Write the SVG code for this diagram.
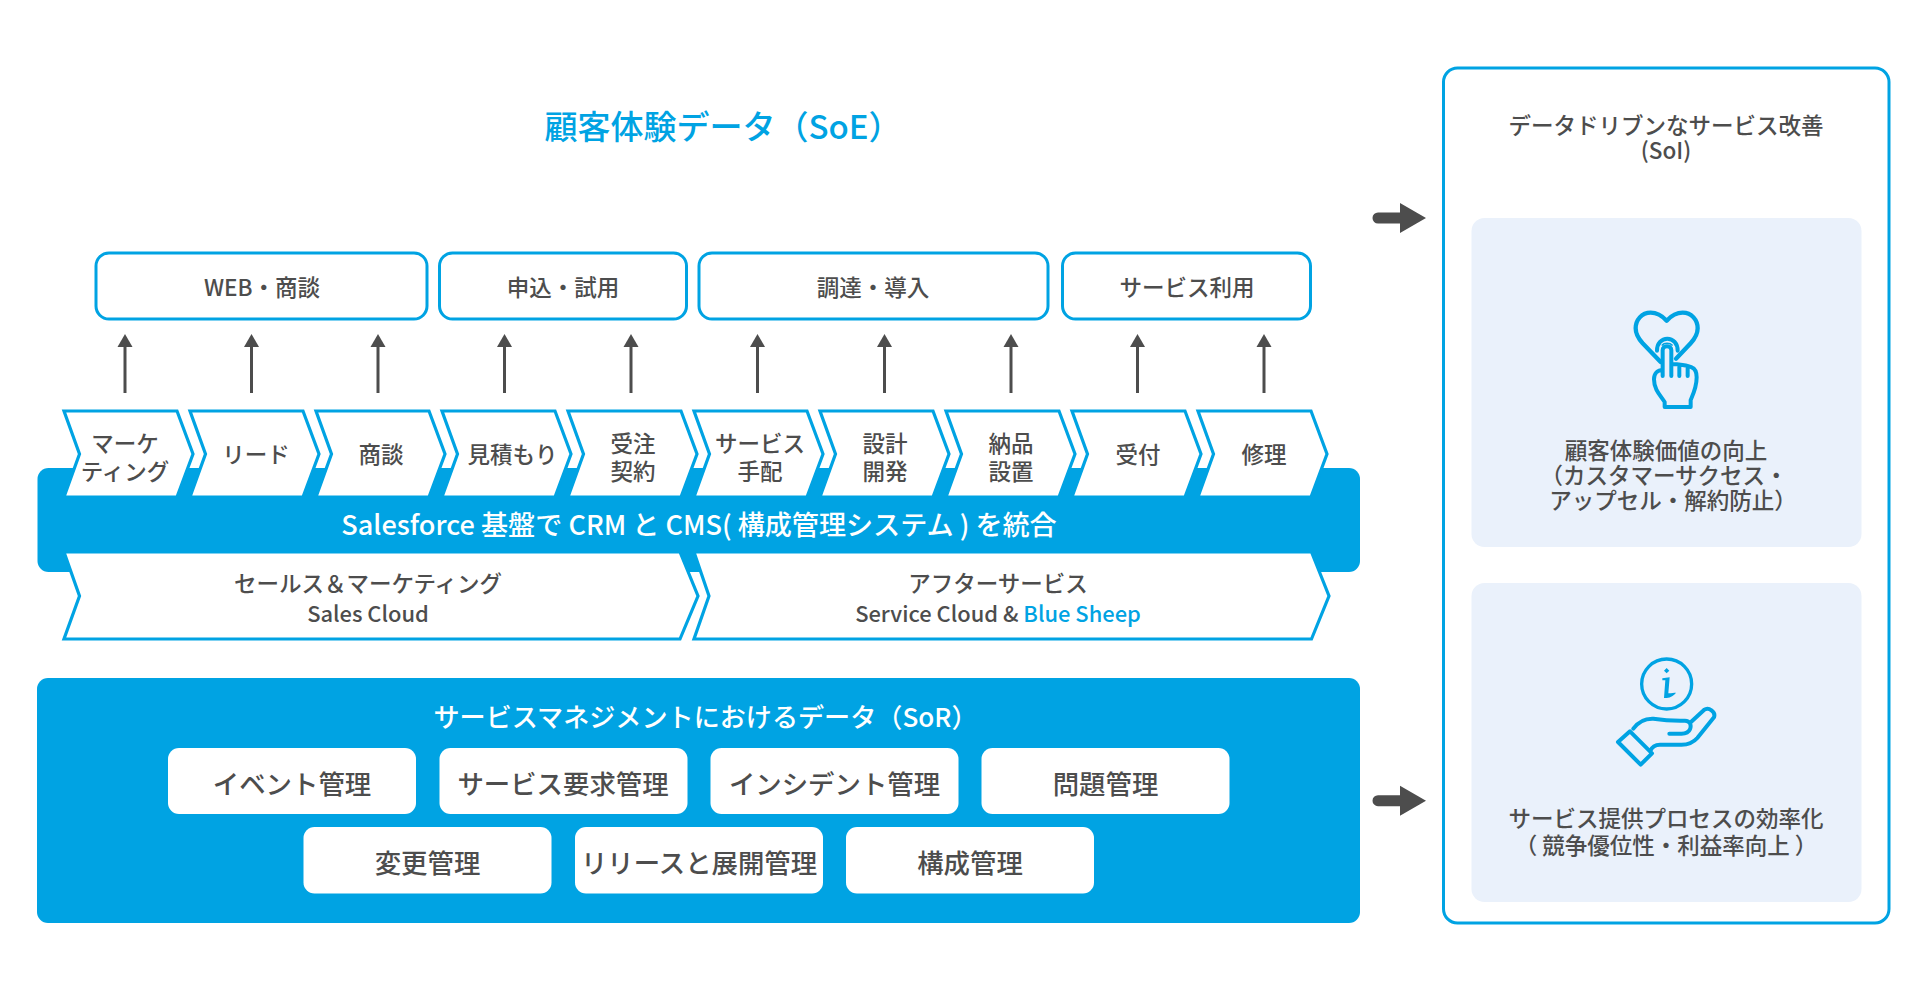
<svg xmlns="http://www.w3.org/2000/svg" width="1920" height="1001" viewBox="0 0 1920 1001">
<style>
text{font-family:"Noto Sans CJK JP","Noto Sans",sans-serif;fill:#4d4d4d;text-anchor:middle;dominant-baseline:central;font-size:22.5px;font-weight:500}
.w{fill:#fff}
.b{fill:#00a3e3}
.box{fill:#fff;stroke:#00a3e3;stroke-width:3}
.chev{fill:#fff;stroke:#00a3e3;stroke-width:3.2;stroke-linejoin:miter}
.band{fill:#00a3e3}
.btn{fill:#fff}
.btn-t{font-size:26.4px}
.lat{font-size:21.9px}
.ar{stroke:#4d4d4d;stroke-width:3;fill:none}
.h{fill:#4d4d4d}
.ic{fill:none;stroke:#00a3e3;stroke-linecap:round;stroke-linejoin:round}
</style>
<defs>
<path id="c" d="M64 411H177L193 454L177 497H64L79.500 454Z"/>
<g id="upa"><path class="ar" d="M0 393V345"/><path class="h" d="M0 334L7.500 347H-7.500Z"/></g>
<g id="biga"><path class="h" d="M1378 212.500H1400V203L1426 218L1400 233V223.500H1378A5.500 5.500 0 0 1 1378 212.500Z"/></g>
</defs>
<rect width="1920" height="1001" fill="#fff"/>
<text id="title" x="723" y="124.500" class="b" style="font-size:33px">顧客体験データ（SoE）</text>

<g id="phase-1"><rect class="box" x="96" y="253" width="331" height="66" rx="13"/><text x="262" y="285.500">WEB・商談</text></g>
<g id="phase-2"><rect class="box" x="439.500" y="253" width="247" height="66" rx="13"/><text x="563" y="285.500">申込・試用</text></g>
<g id="phase-3"><rect class="box" x="699" y="253" width="349" height="66" rx="13"/><text x="873" y="285.500">調達・導入</text></g>
<g id="phase-4"><rect class="box" x="1062.500" y="253" width="248" height="66" rx="13"/><text x="1187" y="285.500">サービス利用</text></g>

<g id="connectors">
<use href="#upa" x="125"/><use href="#upa" x="251.500"/><use href="#upa" x="378"/><use href="#upa" x="504.500"/><use href="#upa" x="631"/><use href="#upa" x="757.500"/><use href="#upa" x="884.500"/><use href="#upa" x="1011"/><use href="#upa" x="1137.500"/><use href="#upa" x="1264"/>
<use href="#biga"/><use href="#biga" y="582.700"/>
</g>

<rect id="integration-band" class="band" x="37.500" y="468" width="1322.500" height="104" rx="11"/>
<g id="step-1"><use href="#c" class="chev"/><text x="125" y="442">マーケ</text><text x="125" y="470">ティング</text></g>
<g id="step-2"><use href="#c" class="chev" x="126"/><text x="256" y="452.500">リード</text></g>
<g id="step-3"><use href="#c" class="chev" x="252"/><text x="381" y="452.500">商談</text></g>
<g id="step-4"><use href="#c" class="chev" x="378"/><text x="512.500" y="452.500">見積もり</text></g>
<g id="step-5"><use href="#c" class="chev" x="504"/><text x="633" y="442">受注</text><text x="633" y="470">契約</text></g>
<g id="step-6"><use href="#c" class="chev" x="630"/><text x="760" y="442">サービス</text><text x="760" y="470">手配</text></g>
<g id="step-7"><use href="#c" class="chev" x="756"/><text x="885" y="442">設計</text><text x="885" y="470">開発</text></g>
<g id="step-8"><use href="#c" class="chev" x="882"/><text x="1011" y="442">納品</text><text x="1011" y="470">設置</text></g>
<g id="step-9"><use href="#c" class="chev" x="1008"/><text x="1138" y="452.500">受付</text></g>
<g id="step-10"><use href="#c" class="chev" x="1134"/><text x="1264" y="452.500">修理</text></g>
<text id="band-label" class="w" x="699" y="523.500" style="font-size:27.100px">Salesforce 基盤で CRM と CMS( 構成管理システム ) を統合</text>

<g id="sales"><path class="chev" d="M64 552H680L698 596L680 639H64L79.500 596Z"/><text x="368" y="581.500">セールス＆マーケティング</text><text x="368" y="612" class="lat">Sales Cloud</text></g>
<g id="after"><path class="chev" d="M694 552H1311.500L1329 596L1311.500 639H694L709 596Z"/><text x="998" y="581.500">アフターサービス</text><text x="998" y="612" class="lat">Service Cloud &amp; <tspan class="b">Blue Sheep</tspan></text></g>

<g id="sor"><rect class="band" x="37" y="678" width="1323" height="245" rx="11"/><text class="w" x="705.500" y="716" style="font-size:26.100px">サービスマネジメントにおけるデータ（SoR）</text></g>
<g id="m1"><rect class="btn" x="168" y="748" width="248" height="66" rx="11"/><text class="btn-t" x="292" y="782">イベント管理</text></g>
<g id="m2"><rect class="btn" x="439.500" y="748" width="248" height="66" rx="11"/><text class="btn-t" x="563" y="782">サービス要求管理</text></g>
<g id="m3"><rect class="btn" x="710.500" y="748" width="248" height="66" rx="11"/><text class="btn-t" x="834.500" y="782">インシデント管理</text></g>
<g id="m4"><rect class="btn" x="981.500" y="748" width="248" height="66" rx="11"/><text class="btn-t" x="1105.500" y="782">問題管理</text></g>
<g id="m5"><rect class="btn" x="303.500" y="827" width="248" height="66.500" rx="11"/><text class="btn-t" x="427.500" y="861">変更管理</text></g>
<g id="m6"><rect class="btn" x="575" y="827" width="248" height="66.500" rx="11"/><text class="btn-t" x="699" y="861">リリースと展開管理</text></g>
<g id="m7"><rect class="btn" x="846" y="827" width="248" height="66.500" rx="11"/><text class="btn-t" x="970" y="861">構成管理</text></g>

<g id="soi"><rect class="box" x="1443.500" y="68" width="445.500" height="855" rx="14"/>
<text x="1666" y="124">データドリブンなサービス改善</text><text x="1666" y="148.500">(SoI)</text></g>

<g id="value-cx"><rect fill="#eaf1fb" x="1471.500" y="218" width="390" height="329" rx="13"/>
<g transform="translate(1590 290) scale(.3333)">
<path class="ic" stroke-width="13" d="M230 92C215 76 200 68 182 68C155 68 137 90 137 115C137 135 147 148 158 160L212 216M230 92C245 76 260 68 278 68C305 68 323 90 323 115C323 135 313 148 302 160L258 206"/>
<path class="ic" stroke-width="12" d="M201 182C201 160 215 146 232 146C249 146 263 160 263 182"/>
<path class="ic" stroke-width="5" d="M217 165C222 158 240 158 246 165"/>
<path class="ic" stroke-width="12" d="M218 258V180C218 165 244 165 244 180V258M268 225V258M293 235V258M246 222C262 222 295 226 305 232C316 236 320 245 320 262C320 292 310 312 302 330V351H224V336C210 315 192 298 192 268C192 250 203 240 218 240"/>
</g>
<text x="1666" y="449">顧客体験価値の向上</text><text x="1664" y="473.500">（カスタマーサクセス・</text><text x="1673" y="498.500">アップセル・解約防止）</text></g>

<g id="value-eff"><rect fill="#eaf1fb" x="1471.500" y="583" width="390" height="319" rx="13"/>
<g transform="translate(1590 640) scale(.3333)">
<circle class="ic" stroke-width="10" cx="230" cy="132" r="75"/>
<path fill="#00a3e3" d="M230 84L238 92L230 100L222 92ZM217 115L239 112L235 160C246 160 252 158 258 158C250 170 232 176 222 174L226 121L217 121Z"/>
<path class="ic" stroke-width="12" d="M84 306L120 274L186 340L152 374ZM130 266C145 245 165 235 190 236C215 240 240 243 285 242C300 242 305 255 300 268C296 278 285 282 270 281H238M303 246L342 210C356 200 378 215 372 232L322 294C307 311 290 315 270 314H210C195 314 186 320 181 333"/>
</g>
<text x="1666" y="817">サービス提供プロセスの効率化</text><text x="1666" y="844">（ 競争優位性・利益率向上 ）</text></g>
</svg>
